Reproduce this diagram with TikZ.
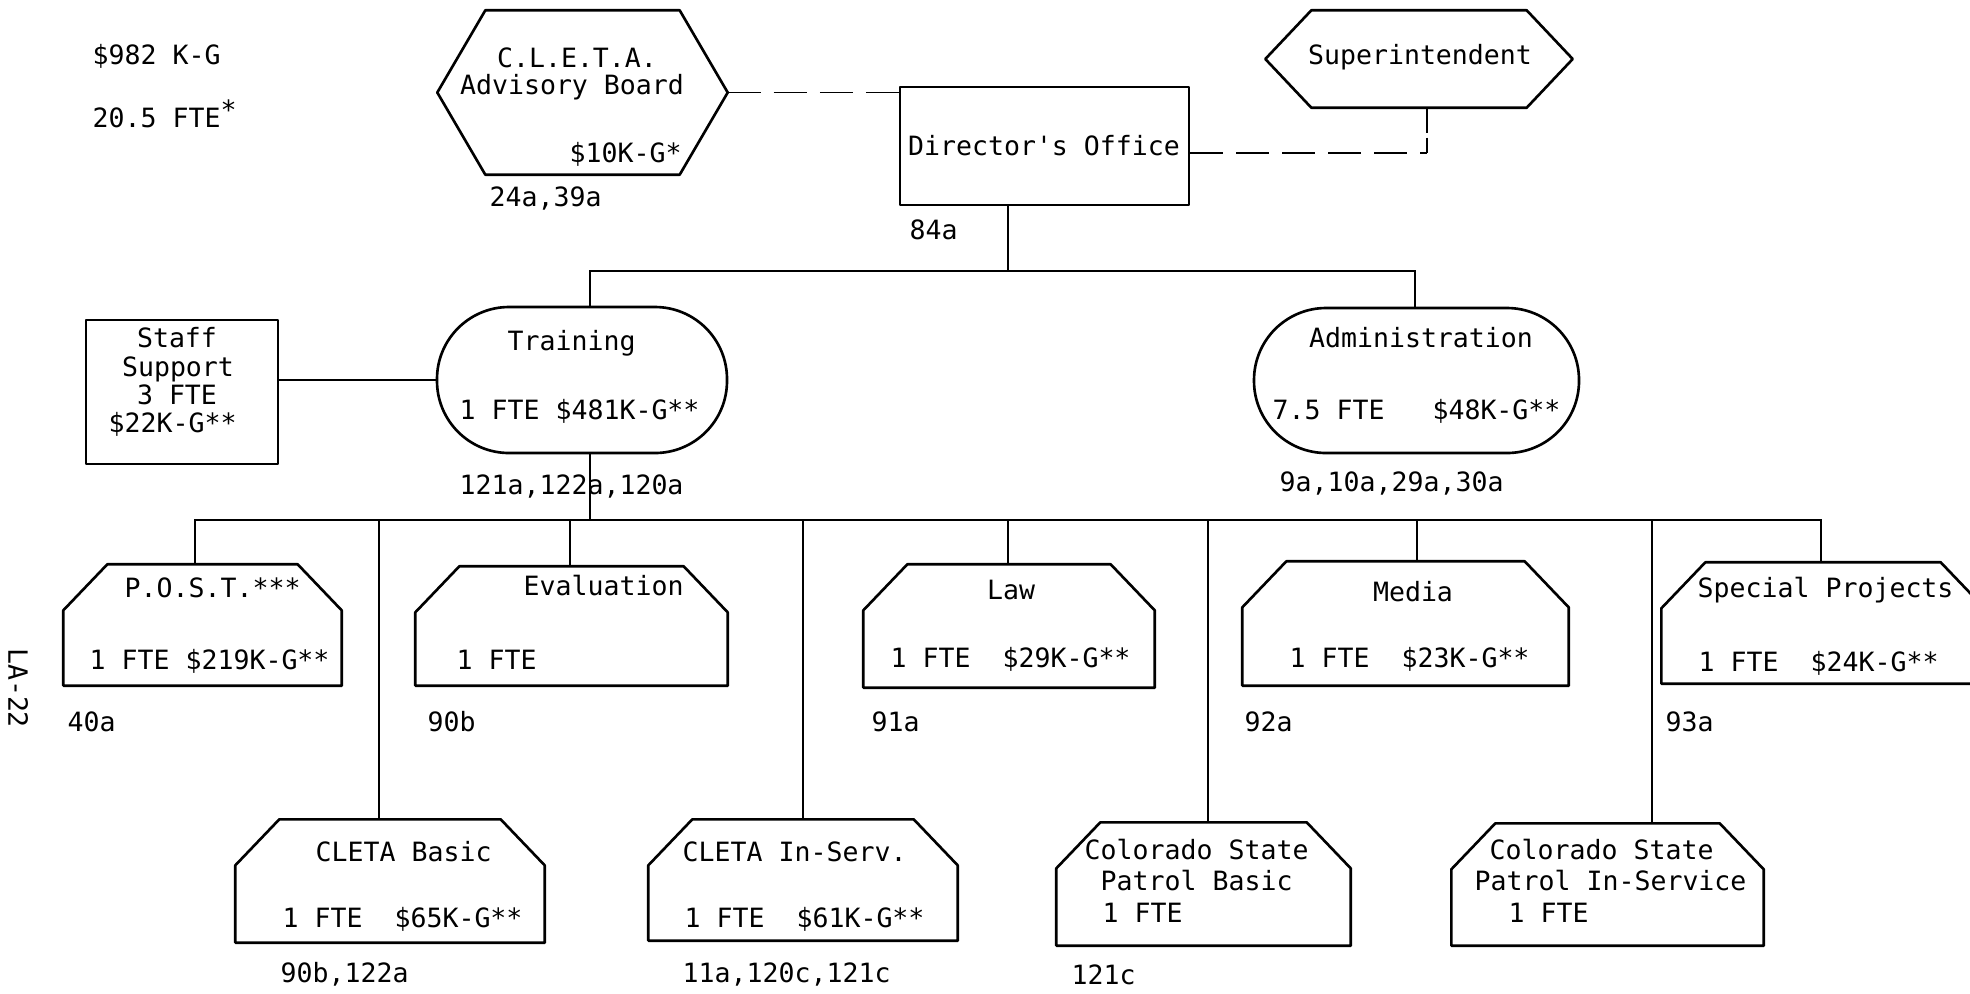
\documentclass[tikz,border=0pt]{standalone}
\usepackage{fontspec}
\setmainfont{DejaVu Sans Mono}
\usetikzlibrary{fit,calc}
\tikzset{
  txt/.style={inner sep=0pt, text height=1.94mm, text depth=0pt, font=\fontsize{7.55pt}{9pt}\selectfont},
  lt/.style={txt, anchor=west},
  ct/.style={txt, anchor=center},
  area/.style={inner sep=0pt, draw=none},
  shapeline/.style={line width=0.75pt, line join=round},
  conn/.style={line width=0.55pt},
  dashconn/.style={conn, dash pattern=on 0.33cm off 0.13cm},
  rbox/.style={area, draw, shapeline},
  roundbox/.style={area, draw, shapeline, rounded corners=0.72cm},
}
\newcommand\hexline[2]{\draw[shapeline] ([xshift=#2]#1.north west) -- ([xshift=-#2]#1.north east) -- (#1.east) -- ([xshift=-#2]#1.south east) -- ([xshift=#2]#1.south west) -- (#1.west) -- cycle;}
\newcommand\houseline[1]{\draw[shapeline] ([xshift=0.44cm]#1.north west) -- ([xshift=-0.44cm]#1.north east) -- ([yshift=-0.46cm]#1.north east) -- (#1.south east) -- (#1.south west) -- ([yshift=-0.46cm]#1.north west) -- cycle;}
\begin{document}
\begin{tikzpicture}[x=0.01cm, y=-0.01cm]
\useasboundingbox (0,0) rectangle (1970,993);

% top-left totals
\node[lt] (total) at (92,55) {\$982 K-G};
\node[lt] (fte) at (92,118) {20.5 FTE\raisebox{0.6ex}{*}};

% C.L.E.T.A. Advisory Board
\node[area, fit={(438,11) (727,174)}] (cleta) {};
\hexline{cleta}{0.48cm}
\node[ct] (cleta1) at (577,58) {C.L.E.T.A.};
\node[ct] (cleta2) at (572,85) {Advisory Board};
\node[lt] (cleta3) at (569,153) {\$10K-G*};
\node[lt] (cleta4) at (489,197) {24a,39a};

% Director's Office
\node[rbox, fit={(900,87) (1189,205)}] (dir) {};
\node[ct] (dirt) at (1044,146) {Director\textquotesingle s Office};
\node[lt] (dirr) at (909,230) {84a};

% Superintendent
\node[area, fit={(1266,11) (1572,107)}] (sup) {};
\hexline{sup}{0.46cm}
\node[ct] (supt) at (1420,55) {Superintendent};

% Staff Support
\node[rbox, fit={(86,320) (278,464)}] (staff) {};
\node[ct] (staff1) at (177,338) {Staff};
\node[ct] (staff2) at (178,367) {Support};
\node[ct] (staff3) at (177,395) {3 FTE};
\node[lt] (staff4) at (108,423) {\$22K-G**};

% Training
\node[roundbox, fit={(437,307) (727,453)}] (train) {};
\node[lt] (train1) at (507,341) {Training};
\node[lt] (train2) at (459,410) {1 FTE \$481K-G**};
\node[lt] (train3) at (459,485) {121a,122a,120a};

% Administration
\node[roundbox, fit={(1254,308) (1579,453)}] (admin) {};
\node[ct] (admin1) at (1421,338) {Administration};
\node[lt] (admin2) at (1272,410) {7.5 FTE~~~\$48K-G**};
\node[lt] (admin3) at (1279,482) {9a,10a,29a,30a};

% second level boxes
\node[area, fit={(64,565) (341,685)}] (post) {};
\houseline{post}
\node[lt] (post1) at (124,588) {P.O.S.T.***};
\node[lt] (post2) at (89,660) {1 FTE \$219K-G**};
\node[lt] (post3) at (67,722) {40a};

\node[area, fit={(416,567) (727,685)}] (eval) {};
\houseline{eval}
\node[lt] (eval1) at (523,586) {Evaluation};
\node[lt] (eval2) at (456,660) {1 FTE};
\node[lt] (eval3) at (427,722) {90b};

\node[area, fit={(864,565) (1154,687)}] (law) {};
\houseline{law}
\node[ct] (law1) at (1011,590) {Law};
\node[lt] (law2) at (890,658) {1 FTE~~\$29K-G**};
\node[lt] (law3) at (871,722) {91a};

\node[area, fit={(1243,562) (1568,685)}] (media) {};
\houseline{media}
\node[ct] (media1) at (1413,592) {Media};
\node[lt] (media2) at (1289,658) {1 FTE~~\$23K-G**};
\node[lt] (media3) at (1244,722) {92a};

\node[area, fit={(1662,563) (1984,683)}] (spec) {};
\houseline{spec}
\node[lt] (spec1) at (1697,588) {Special Projects};
\node[lt] (spec2) at (1698,662) {1 FTE~~\$24K-G**};
\node[lt] (spec3) at (1665,722) {93a};

% third level boxes
\node[area, fit={(236,820) (544,942)}] (cbasic) {};
\houseline{cbasic}
\node[lt] (cbasic1) at (315,852) {CLETA Basic};
\node[lt] (cbasic2) at (282,918) {1 FTE~~\$65K-G**};
\node[lt] (cbasic3) at (280,973) {90b,122a};

\node[area, fit={(649,820) (957,940)}] (cinserv) {};
\houseline{cinserv}
\node[lt] (cinserv1) at (682,852) {CLETA In-Serv.};
\node[lt] (cinserv2) at (684,918) {1 FTE~~\$61K-G**};
\node[lt] (cinserv3) at (682,973) {11a,120c,121c};

\node[area, fit={(1057,823) (1350,945)}] (cspb) {};
\houseline{cspb}
\node[lt] (cspb1) at (1084,850) {Colorado State};
\node[lt] (cspb2) at (1100,881) {Patrol Basic};
\node[lt] (cspb3) at (1102,913) {1 FTE};
\node[lt] (cspb4) at (1071,975) {121c};

\node[area, fit={(1452,824) (1763,945)}] (cspi) {};
\houseline{cspi}
\node[lt] (cspi1) at (1489,850) {Colorado State};
\node[lt] (cspi2) at (1474,881) {Patrol In-Service};
\node[lt] (cspi3) at (1508,913) {1 FTE};

% page number
\node[txt, rotate=-90] (page) at (18,688) {LA-22};

% connectors
\coordinate (jd) at (1008,271);
\coordinate (jt) at (590,271);
\coordinate (ja) at (1415,271);
\draw[conn] (dir.south -| jd) -- (jd);
\draw[conn] (train.north -| jt) -- (jt) -- (ja) -- (admin.north -| ja);
\coordinate (bt) at (590,520);
\draw[conn] (train.south -| bt) -- (bt);
\coordinate (bl) at (195,520);
\coordinate (br) at (1821,520);
\draw[conn] (post.north -| bl) -- (bl) -- (br) -- (spec.north -| br);
\foreach \c/\x in {cbasic/379, eval/570, cinserv/803, law/1008, cspb/1208, media/1417, cspi/1652} {
  \coordinate (d\c) at (\x,520);
  \draw[conn] (d\c) -- (d\c |- \c.north);
}
\draw[conn] (staff.east |- train.west) -- (train.west);
\draw[dashconn] (cleta.east) -- (cleta.east -| dir.west);
\coordinate (js) at (1427,153);
\draw[dashconn] (js -| dir.east) -- (js);
\draw[conn, dash pattern=on 0.25cm off 0.05cm] (js |- sup.south) -- (js);
\end{tikzpicture}
\end{document}
